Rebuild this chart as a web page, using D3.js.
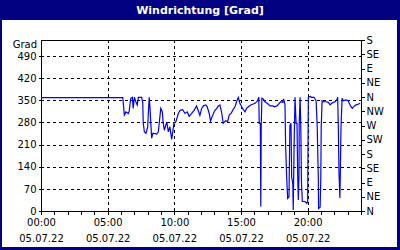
<!DOCTYPE html>
<html lang="de">
<head>
<meta charset="UTF-8">
<script src="https://d3js.org/d3.v7.min.js"></script>
<style>
  body { margin: 0; background: #fff; }
  text { font-family: Tahoma, "DejaVu Sans", sans-serif; }
</style>
</head>
<body>
<div id="chart"></div>
<script>
var width = 400, height = 250;

var title = "Windrichtung [Grad]";
var unitLabel = "Grad";
var day = "2022-07-05";
var dateLabel = "05.07.22";

var leftTicks = [0, 70, 140, 210, 280, 350, 420, 490];
var dirTicks = [0, 45, 90, 135, 180, 225, 270, 315, 360, 405, 450, 495, 540];
var dirLabels = ["N", "NE", "E", "SE", "S", "SW", "W", "NW", "N", "NE", "E", "SE", "S"];

var times = ["00:00","06:08","06:15","06:22","06:33","06:37","06:44","06:51","06:55","07:00",
  "07:07","07:13","07:18","07:33","07:38","07:40","07:45","07:52","08:00","08:05",
  "08:07","08:10","08:14","08:18","08:23","08:28","08:41","08:48","08:52","08:59",
  "09:06","09:10","09:15","09:21","09:26","09:33","09:40","09:48","09:53","09:58",
  "10:07","10:18","10:26","10:38","10:48","10:58","11:07","11:18","11:29","11:40",
  "11:48","11:55","12:03","12:11","12:22","12:28","12:37","12:43","12:50","12:56",
  "13:03","13:11","13:18","13:25","13:33","13:40","13:46","13:52","14:00","14:07",
  "14:15","14:25","14:33","14:40","14:48","14:55","15:03","15:10","15:18","15:25",
  "15:33","15:44","15:52","16:03","16:13","16:20","16:22","16:27","16:29","16:31",
  "16:34","16:40","16:48","16:58","17:11","17:23","17:30","17:42","17:52","17:59",
  "18:08","18:12","18:18","18:21","18:26","18:30","18:36","18:40","18:45","18:48",
  "18:53","18:55","18:59","19:03","19:08","19:12","19:15","19:18","19:21","19:22",
  "19:26","19:29","19:32","19:33","19:36","19:48","19:56","20:00","20:03","20:11",
  "20:18","20:29","20:38","20:43","20:48","20:49","20:56","20:59","21:01","21:05",
  "21:10","21:23","21:33","21:41","21:48","21:56","22:03","22:11","22:15","22:18",
  "22:21","22:25","22:27","22:30","22:35","22:40","22:53","23:02","23:14","23:21",
  "23:30","23:38","23:47","23:56"];

var degrees = [358,358,303,313,308,316,356,359,324,359,
  345,335,359,359,341,279,250,245,265,335,
  359,330,279,230,245,245,243,250,277,324,
  313,277,255,270,281,250,266,226,250,277,
  282,308,318,320,308,313,299,308,318,332,
  316,302,324,332,335,329,308,284,298,308,
  318,324,332,335,311,277,282,285,282,303,
  308,321,329,345,359,340,329,321,313,324,
  329,335,337,340,347,359,277,277,14,270,
  356,354,345,340,332,332,329,332,340,345,
  343,354,335,198,98,40,45,270,277,108,
  87,3,210,359,277,277,114,35,114,277,
  359,270,98,77,30,30,24,30,359,362,
  359,359,348,266,100,8,12,100,266,348,
  345,345,343,335,340,343,345,351,359,266,
  120,41,120,266,356,348,351,348,330,324,
  332,335,337,340];

var margin = {top: 40, right: 39, bottom: 39, left: 41};
var parse = d3.timeParse("%Y-%m-%d %H:%M");
var data = times.map((t, i) => ({t: parse(day + " " + t), v: degrees[i]}));

var x = d3.scaleTime()
    .domain([parse(day + " 00:00"), d3.timeDay.offset(parse(day + " 00:00"), 1)])
    .range([margin.left, width - margin.right]);

var y = d3.scaleLinear()
    .domain([0, 540])
    .range([height - margin.bottom, margin.top]);

var svg = d3.select("#chart").append("svg")
    .attr("width", width)
    .attr("height", height);

// frame and title bar
svg.append("rect").attr("width", width).attr("height", height).attr("fill", "#000080");
svg.append("rect").attr("x", 2).attr("y", 20).attr("width", width - 5).attr("height", height - 23).attr("fill", "#fff");
svg.append("text")
    .attr("x", width / 2).attr("y", 14)
    .attr("text-anchor", "middle")
    .attr("fill", "#fff")
    .attr("font-size", 11)
    .attr("font-weight", "bold")
    .text(title);

// grid
var grid = svg.append("g")
    .attr("stroke", "#000")
    .attr("stroke-dasharray", "3,3")
    .attr("shape-rendering", "crispEdges");
grid.selectAll(".h")
    .data(leftTicks.filter(d => d > 0))
    .join("line")
    .attr("x1", margin.left).attr("x2", width - margin.right)
    .attr("y1", d => Math.round(y(d)) + 0.5).attr("y2", d => Math.round(y(d)) + 0.5);
grid.selectAll(".v")
    .data(x.ticks(d3.timeHour.every(5)).filter(d => d.getHours() > 0))
    .join("line")
    .attr("x1", d => Math.round(x(d)) + 0.5).attr("x2", d => Math.round(x(d)) + 0.5)
    .attr("y1", margin.top).attr("y2", height - margin.bottom);

// plot border
svg.append("rect")
    .attr("x", margin.left + 0.5).attr("y", margin.top + 0.5)
    .attr("width", width - margin.left - margin.right)
    .attr("height", height - margin.top - margin.bottom)
    .attr("fill", "none").attr("stroke", "#000")
    .attr("shape-rendering", "crispEdges");

// line
svg.append("path")
    .datum(data)
    .attr("fill", "none")
    .attr("stroke", "#0000ff")
    .attr("stroke-width", 1.2)
    .attr("d", d3.line().x(d => x(d.t)).y(d => y(d.v)));

// axes
var fontSize = 10;
function styleAxis(g) {
    g.select(".domain").remove();
    g.selectAll("line").attr("stroke", "#000").attr("shape-rendering", "crispEdges");
    g.selectAll("text").attr("font-size", fontSize).attr("fill", "#000")
        .attr("font-family", 'Tahoma, "DejaVu Sans", sans-serif');
}

svg.append("g")
    .attr("transform", `translate(${margin.left + 0.5},0)`)
    .call(d3.axisLeft(y).tickValues(leftTicks).tickSize(3).tickPadding(2))
    .call(styleAxis);

svg.append("text")
    .attr("x", margin.left - 4).attr("y", 48)
    .attr("text-anchor", "end")
    .attr("font-size", fontSize)
    .text(unitLabel);

svg.append("g")
    .attr("transform", `translate(${width - margin.right + 0.5},0)`)
    .call(d3.axisRight(y).tickValues(dirTicks).tickFormat((d, i) => dirLabels[i]).tickSize(3).tickPadding(2))
    .call(styleAxis);

svg.append("g")
    .attr("transform", `translate(0,${height - margin.bottom + 0.5})`)
    .call(d3.axisBottom(x).ticks(d3.timeHour.every(1)).tickFormat("").tickSize(3))
    .call(styleAxis);

var xLabels = svg.append("g")
    .attr("transform", `translate(0,${height - margin.bottom})`)
    .call(d3.axisBottom(x).ticks(d3.timeHour.every(5)).tickSize(0).tickPadding(8)
        .tickFormat(d3.timeFormat("%H:%M")))
    .call(styleAxis);
xLabels.selectAll(".tick").filter(d => d.getDate() !== 5).remove();
xLabels.selectAll(".tick").append("text")
    .attr("y", 24).attr("dy", "0.71em")
    .attr("text-anchor", "middle")
    .attr("font-size", fontSize)
    .attr("fill", "#000")
    .text(dateLabel);
</script>
</body>
</html>
